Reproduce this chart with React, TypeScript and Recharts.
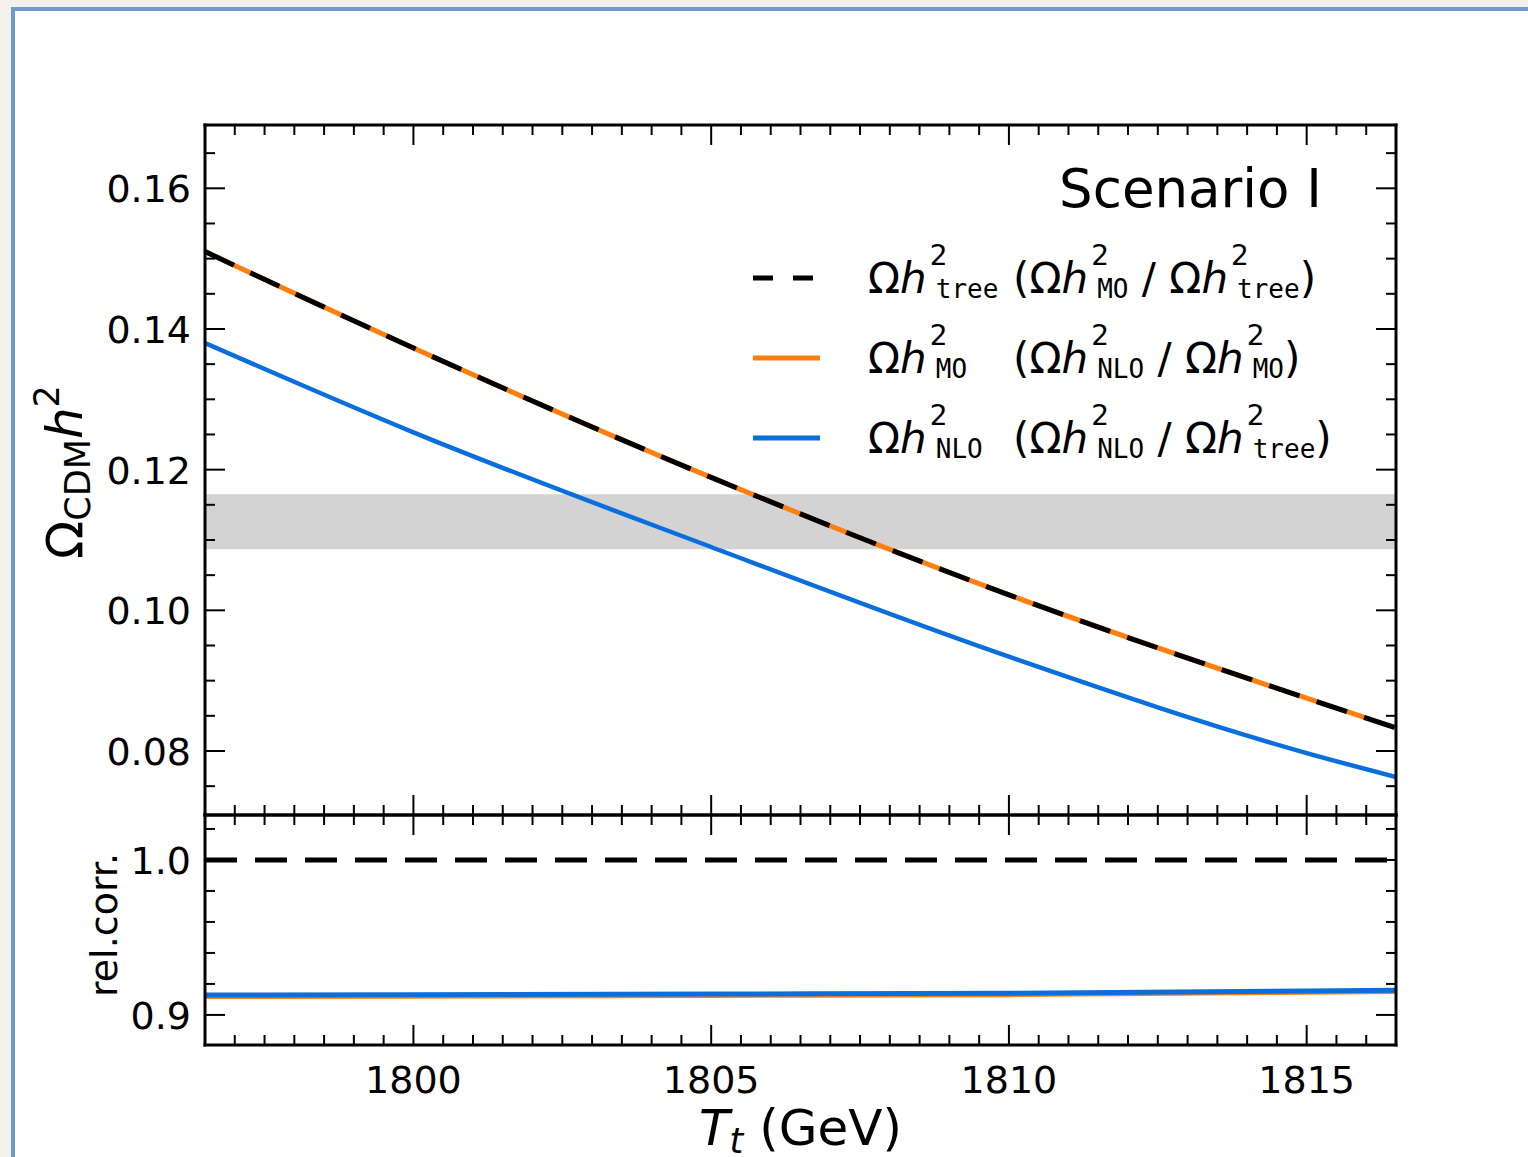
import React from "react";
import { LineChart, Line, XAxis, YAxis, ReferenceArea, Legend } from "recharts";

const SANS = '"DejaVu Sans", sans-serif';
const MONO = '"DejaVu Sans Mono", monospace';
const ORANGE = "#ff7f0e";
const BLUE = "#0a6fdd";

// T_t in GeV
const tt = [1796.5, 1800, 1805, 1810, 1815, 1816.5];
// relic density (top panel)
const omegaTree = [0.151, 0.1373, 0.1189, 0.1022, 0.0875, 0.0833];
const omegaMO = [0.151, 0.1373, 0.1189, 0.1022, 0.0875, 0.0833];
const omegaNLO = [0.138, 0.1253, 0.109, 0.0934, 0.0797, 0.0763];
// relative corrections (bottom panel)
const ratioMOTree = [1, 1, 1, 1, 1, 1];
const ratioNLOMO = [0.9119, 0.9121, 0.9126, 0.9131, 0.9146, 0.9151];
const ratioNLOTree = [0.9128, 0.913, 0.9135, 0.914, 0.9155, 0.916];

// observed band
const bandLow = 0.1087;
const bandHigh = 0.1165;

const xDomain = [1796.5, 1816.5];
const xTicks = [
  1797, 1797.5, 1798, 1798.5, 1799, 1799.5, 1800, 1800.5, 1801, 1801.5, 1802,
  1802.5, 1803, 1803.5, 1804, 1804.5, 1805, 1805.5, 1806, 1806.5, 1807, 1807.5,
  1808, 1808.5, 1809, 1809.5, 1810, 1810.5, 1811, 1811.5, 1812, 1812.5, 1813,
  1813.5, 1814, 1814.5, 1815, 1815.5, 1816,
];
const xMajor = [1800, 1805, 1810, 1815];

const yTopDomain = [0.0709, 0.169];
const yTopTicks = [
  0.075, 0.08, 0.085, 0.09, 0.095, 0.1, 0.105, 0.11, 0.115, 0.12, 0.125, 0.13,
  0.135, 0.14, 0.145, 0.15, 0.155, 0.16, 0.165,
];
const yTopMajor = [0.08, 0.1, 0.12, 0.14, 0.16];

const yBotDomain = [0.8806, 1.029];
const yBotTicks = [0.9, 0.92, 0.94, 0.96, 0.98, 1.0, 1.02];
const yBotMajor = [0.9, 1.0];

const legendMain = ["tree", "MO", "NLO"];
const legendNum = ["MO", "NLO", "NLO"];
const legendDen = ["tree", "MO", "tree"];

const topData = tt.map((x, i) => ({
  x,
  tree: omegaTree[i],
  mo: omegaMO[i],
  nlo: omegaNLO[i],
}));
const botData = tt.map((x, i) => ({
  x,
  moTree: ratioMOTree[i],
  nloMO: ratioNLOMO[i],
  nloTree: ratioNLOTree[i],
}));

type Side = "bottom" | "top" | "left" | "right";

// inward ticks, labels only on majors
const tickRenderer =
  (side: Side, majors: number[], fmt?: (v: number) => string) =>
  (props: any) => {
    const { x, y, payload } = props;
    const v = payload.value as number;
    const major = majors.some((m) => Math.abs(m - v) < 1e-6);
    const len = major ? 20 : 10;
    let x2 = x;
    let y2 = y;
    if (side === "bottom") y2 = y - len;
    if (side === "top") y2 = y + len;
    if (side === "left") x2 = x + len;
    if (side === "right") x2 = x - len;
    let label = null;
    if (fmt && major) {
      label =
        side === "bottom" ? (
          <text x={x} y={y + 48} textAnchor="middle" fontSize={38} fill="#000" fontFamily={SANS}>
            {fmt(v)}
          </text>
        ) : (
          <text x={x - 14} y={y + 14} textAnchor="end" fontSize={38} fill="#000" fontFamily={SANS}>
            {fmt(v)}
          </text>
        );
    }
    return (
      <g>
        <line x1={x} y1={y} x2={x2} y2={y2} stroke="#000" strokeWidth={2} />
        {label}
      </g>
    );
  };

const spine = { stroke: "#000", strokeWidth: 3, strokeLinecap: "square" as const };

const Omh = ({ sub }: { sub: string }) => (
  <>
    <span>Ω</span>
    <span style={{ fontStyle: "italic" }}>h</span>
    <span
      style={{
        position: "relative",
        display: "inline-block",
        marginLeft: 9,
        fontFamily: MONO,
        fontSize: 26,
        lineHeight: 1,
        verticalAlign: "-5px",
      }}
    >
      <span
        style={{
          position: "absolute",
          left: -6,
          top: -34,
          fontFamily: SANS,
          fontSize: 28,
          lineHeight: 1,
        }}
      >
        2
      </span>
      {sub}
    </span>
  </>
);

const LegendBox = () => (
  <div style={{ position: "relative", width: 620, height: 340, fontFamily: SANS, color: "#000" }}>
    <div
      style={{
        position: "absolute",
        right: 38,
        top: 22,
        fontSize: 53,
        lineHeight: 1,
        whiteSpace: "nowrap",
      }}
    >
      Scenario I
    </div>
    {legendMain.map((m, i) => (
      <div key={m} style={{ position: "absolute", left: 0, top: 118 + i * 80, height: 41, width: 620 }}>
        <svg width={70} height={10} style={{ position: "absolute", left: 13, top: 15 }}>
          {i === 0 ? (
            <line x1={0} y1={5} x2={62} y2={5} stroke="#000" strokeWidth={5} strokeDasharray="20 20" />
          ) : (
            <line x1={0} y1={5} x2={67} y2={5} stroke={i === 1 ? ORANGE : BLUE} strokeWidth={5} />
          )}
        </svg>
        <div
          style={{
            position: "absolute",
            left: 128,
            top: 0,
            fontSize: 42,
            lineHeight: 1,
            whiteSpace: "nowrap",
          }}
        >
          <span style={{ display: "inline-block", width: 145 }}>
            <Omh sub={m} />
          </span>
          (<Omh sub={legendNum[i]} /> / <Omh sub={legendDen[i]} />)
        </div>
      </div>
    ))}
  </div>
);

const TopYLabel = (props: any) => {
  const { x, y, width, height } = props.viewBox;
  const cx = x + width - 123;
  const cy = y + height / 2 + 2;
  return (
    <text
      x={cx}
      y={cy}
      transform={`rotate(-90 ${cx} ${cy})`}
      textAnchor="middle"
      fontSize={50}
      fill="#000"
      fontFamily={SANS}
    >
      <tspan>Ω</tspan>
      <tspan fontSize={35} dy={8}>CDM</tspan>
      <tspan fontStyle="italic" dy={-8}>h</tspan>
      <tspan fontSize={35} dy={-23}>2</tspan>
    </text>
  );
};

const BotYLabel = (props: any) => {
  const { x, y, width, height } = props.viewBox;
  const cx = x + width - 88;
  const cy = y + height / 2 - 5;
  return (
    <text
      x={cx}
      y={cy}
      transform={`rotate(-90 ${cx} ${cy})`}
      textAnchor="middle"
      fontSize={38}
      fill="#000"
      fontFamily={SANS}
    >
      rel.corr.
    </text>
  );
};

const XTitle = (props: any) => {
  const { x, y, width } = props.viewBox;
  return (
    <text x={x + width / 2} y={y + 100} textAnchor="middle" fontSize={50} fill="#000" fontFamily={SANS}>
      <tspan fontStyle="italic">T</tspan>
      <tspan fontStyle="italic" fontSize={35} dy={8}>t</tspan>
      <tspan dy={-8}> (GeV)</tspan>
    </text>
  );
};

const axisCommon = {
  type: "number" as const,
  allowDataOverflow: true,
  interval: 0 as const,
  tickSize: 0,
  tickMargin: 0,
  tickLine: false,
  axisLine: spine,
};

export default function App() {
  return (
    <div
      style={{
        position: "fixed",
        left: 0,
        top: 0,
        width: 1528,
        height: 1157,
        overflow: "hidden",
        background: "#f4f0ea",
        fontFamily: SANS,
      }}
    >
      <div
        style={{
          position: "absolute",
          left: 11,
          top: 7,
          width: 1600,
          height: 1300,
          background: "#fff",
          borderLeft: "4px solid #7099cb",
          borderTop: "4px solid #7099cb",
        }}
      />
      <div style={{ position: "absolute", left: 0, top: 0 }}>
        <LineChart
          width={1528}
          height={830}
          data={topData}
          margin={{ top: 124, right: 131, bottom: 14, left: 204 }}
        >
          <XAxis
            {...axisCommon}
            xAxisId="b"
            dataKey="x"
            domain={xDomain}
            ticks={xTicks}
            height={1}
            tick={tickRenderer("bottom", xMajor)}
          />
          <XAxis
            {...axisCommon}
            xAxisId="t"
            orientation="top"
            dataKey="x"
            domain={xDomain}
            ticks={xTicks}
            height={1}
            tick={tickRenderer("top", xMajor)}
          />
          <YAxis
            {...axisCommon}
            yAxisId="l"
            domain={yTopDomain}
            ticks={yTopTicks}
            width={1}
            tick={tickRenderer("left", yTopMajor, (v) => v.toFixed(2))}
            label={TopYLabel}
          />
          <YAxis
            {...axisCommon}
            yAxisId="r"
            orientation="right"
            domain={yTopDomain}
            ticks={yTopTicks}
            width={1}
            tick={tickRenderer("right", yTopMajor)}
          />
          <ReferenceArea
            xAxisId="b"
            yAxisId="l"
            x1={xDomain[0]}
            x2={xDomain[1]}
            y1={bandLow}
            y2={bandHigh}
            fill="#d3d3d3"
            fillOpacity={1}
            stroke="none"
          />
          <Line
            xAxisId="b"
            yAxisId="l"
            dataKey="nlo"
            type="monotone"
            stroke={BLUE}
            strokeWidth={4.5}
            dot={false}
            isAnimationActive={false}
          />
          <Line
            xAxisId="b"
            yAxisId="l"
            dataKey="mo"
            type="monotone"
            stroke={ORANGE}
            strokeWidth={5}
            dot={false}
            isAnimationActive={false}
          />
          <Line
            xAxisId="b"
            yAxisId="l"
            dataKey="tree"
            type="monotone"
            stroke="#000"
            strokeWidth={5}
            strokeDasharray="32 18"
            dot={false}
            isAnimationActive={false}
          />
          <Legend
            layout="vertical"
            align="center"
            verticalAlign="middle"
            content={() => <LegendBox />}
            wrapperStyle={{ top: 140, left: 740, width: 620 }}
          />
        </LineChart>
      </div>
      <div style={{ position: "absolute", left: 0, top: 780 }}>
        <LineChart
          width={1528}
          height={377}
          data={botData}
          margin={{ top: 34, right: 131, bottom: 111, left: 204 }}
        >
          <XAxis
            {...axisCommon}
            xAxisId="b"
            dataKey="x"
            domain={xDomain}
            ticks={xTicks}
            height={1}
            tick={tickRenderer("bottom", xMajor, (v) => String(v))}
            label={XTitle}
          />
          <XAxis
            {...axisCommon}
            xAxisId="t"
            orientation="top"
            dataKey="x"
            domain={xDomain}
            ticks={xTicks}
            height={1}
            tick={tickRenderer("top", xMajor)}
          />
          <YAxis
            {...axisCommon}
            yAxisId="l"
            domain={yBotDomain}
            ticks={yBotTicks}
            width={1}
            tick={tickRenderer("left", yBotMajor, (v) => v.toFixed(1))}
            label={BotYLabel}
          />
          <YAxis
            {...axisCommon}
            yAxisId="r"
            orientation="right"
            domain={yBotDomain}
            ticks={yBotTicks}
            width={1}
            tick={tickRenderer("right", yBotMajor)}
          />
          <Line
            xAxisId="b"
            yAxisId="l"
            dataKey="moTree"
            type="monotone"
            stroke="#000"
            strokeWidth={5}
            strokeDasharray="32 18"
            dot={false}
            isAnimationActive={false}
          />
          <Line
            xAxisId="b"
            yAxisId="l"
            dataKey="nloMO"
            type="monotone"
            stroke={ORANGE}
            strokeWidth={5}
            dot={false}
            isAnimationActive={false}
          />
          <Line
            xAxisId="b"
            yAxisId="l"
            dataKey="nloTree"
            type="monotone"
            stroke={BLUE}
            strokeWidth={5}
            dot={false}
            isAnimationActive={false}
          />
        </LineChart>
      </div>
    </div>
  );
}
